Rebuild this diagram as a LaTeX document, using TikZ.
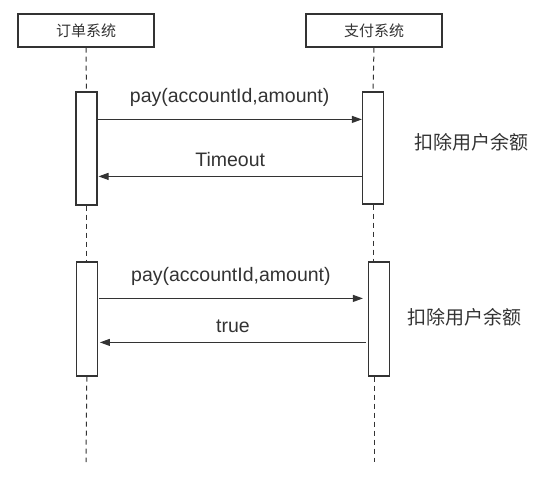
\documentclass[tikz,border=0pt]{standalone}
\usepackage{fontspec}
\setmainfont{Liberation Sans}
\newfontfamily\cjk{Noto Sans CJK SC}
\usetikzlibrary{arrows.meta}
\definecolor{linegray}{HTML}{333333}

\begin{document}
\begin{tikzpicture}[x=1pt,y=-1pt,line width=1pt,draw=linegray,text=linegray,
  actor/.style={draw=linegray,line width=1.2pt,minimum width=136pt,minimum height=33pt,inner sep=0pt,font=\cjk\fontsize{15}{15}\selectfont},
  actbox/.style={draw=linegray,line width=1.2pt,minimum width=21pt,inner sep=0pt},
  life/.style={draw=linegray,dash pattern=on 5pt off 4pt},
  msg/.style={draw=linegray,-{Triangle[length=10pt,width=7pt]}},
  lbl/.style={font=\fontsize{19.5}{19.5}\selectfont,anchor=base},
  note/.style={font=\cjk\fontsize{19}{19}\selectfont}]
\useasboundingbox (0,0) rectangle (543,482);
\node[actor] (hdrL) at (86,30.5) {订单系统};
\node[actor] (hdrR) at (374,30.5) {支付系统};
\node[actbox,minimum height=113pt] (actL1) at (86.4,148.5) {};
\node[actbox,minimum height=112pt] (actR1) at (373,148) {};
\node[actbox,minimum height=114pt] (actL2) at (86.8,319) {};
\node[actbox,minimum height=114pt] (actR2) at (379,319) {};
\coordinate (endL) at (86,462);
\coordinate (endR) at (374,462);
\draw[life] (hdrL.south) -- (actL1.north);
\draw[life] (actL1.south) -- (actL1.south |- actL2.north);
\draw[life] (actL2.south) -- (endL);
\draw[life] (hdrR.south) -- (actR1.north);
\draw[life] (actR1.south) -- (actR1.south |- actR2.north);
\draw[life] (endR |- actR2.south) -- (endR);
\draw[msg] ([yshift=-28pt]actL1.north east) -- ([yshift=-28pt]actR1.north west) node[lbl,midway,yshift=17pt] {pay(accountId,amount)};
\draw[msg] ([yshift=-85pt]actR1.north west) -- ([xshift=1pt,yshift=-85pt]actL1.north east) node[lbl,midway,yshift=10pt] {Timeout};
\draw[msg] ([xshift=1pt,yshift=-37pt]actL2.north east) -- ([xshift=-5pt,yshift=-37pt]actR2.north west) node[lbl,midway,yshift=17pt] {pay(accountId,amount)};
\draw[msg] ([xshift=-2pt,yshift=-81pt]actR2.north west) -- ([xshift=2pt,yshift=-81pt]actL2.north east) node[lbl,midway,yshift=10pt] {true};
\node[note] (noteA) at (471,142) {扣除用户余额};
\node[note] (noteB) at (464,317) {扣除用户余额};
\end{tikzpicture}
\end{document}
